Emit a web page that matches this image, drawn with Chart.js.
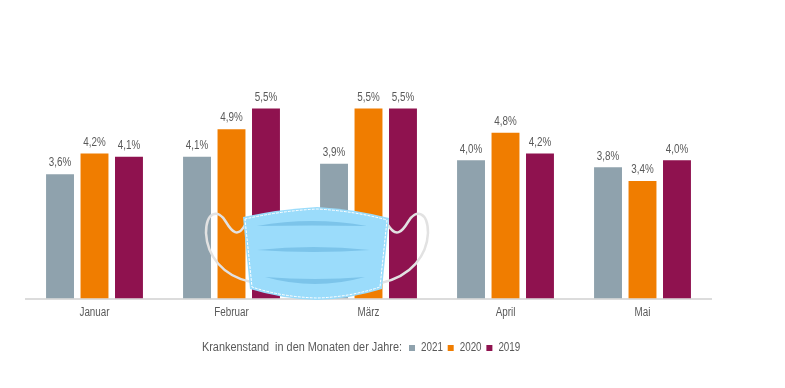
<!DOCTYPE html>
<html>
<head>
<meta charset="utf-8">
<script src="https://cdn.jsdelivr.net/npm/chart.js@4"></script>
<style>
html, body { margin: 0; padding: 0; background: #fff; }
canvas { display: block; }
</style>
</head>
<body>
<canvas id="myChart" width="785" height="388"></canvas>
<script>
var months = ["Januar", "Februar", "März", "April", "Mai"];
var values2021 = [3.6, 4.1, 3.9, 4.0, 3.8];
var values2020 = [4.2, 4.9, 5.5, 4.8, 3.4];
var values2019 = [4.1, 5.5, 5.5, 4.2, 4.0];
var legendTitle = "Krankenstand  in den Monaten der Jahre:";

var textColor = "#595959";
var fontName = "'Liberation Sans', Arial, sans-serif";

// the original type is condensed, no narrow font here so squeeze all canvas text
var squeeze = {
  id: "squeeze",
  beforeInit: function (chart) {
    var ctx = chart.ctx;
    var rawFill = ctx.fillText;
    ctx.fillText = function (text, x, y, maxW) {
      rawFill.call(ctx, text, x, y, maxW || ctx.measureText(text).width * 0.82);
    };
  }
};

// value labels above the bars
var barLabels = {
  id: "barLabels",
  afterDatasetsDraw: function (chart) {
    var ctx = chart.ctx;
    ctx.save();
    ctx.font = "12px " + fontName;
    ctx.fillStyle = textColor;
    ctx.textAlign = "center";
    ctx.textBaseline = "bottom";
    chart.data.datasets.forEach(function (ds, i) {
      chart.getDatasetMeta(i).data.forEach(function (bar, j) {
        ctx.fillText(ds.data[j].toFixed(1).replace(".", ",") + "%", bar.x, bar.y - 5);
      });
    });
    ctx.restore();
  }
};

// legend sits right of its title line
var legendPlace = {
  id: "legendPlace",
  afterLayout: function (chart) {
    var lg = chart.legend;
    var h = lg.bottom - lg.top;
    lg.left = 409;
    lg.right = 600;
    lg.top = 342;
    lg.bottom = 342 + h;
  },
  afterDraw: function (chart) {
    var ctx = chart.ctx;
    ctx.save();
    ctx.font = "12px " + fontName;
    ctx.fillStyle = textColor;
    ctx.textBaseline = "middle";
    ctx.fillText(legendTitle, 202, 348, 200);
    ctx.restore();
  }
};

// the face mask lying over the bars
var mask = {
  id: "mask",
  afterDraw: function (chart) {
    var ctx = chart.ctx;
    ctx.save();
    ctx.lineCap = "round";

    ctx.strokeStyle = "#e2e2e2";
    ctx.lineWidth = 2.5;
    ctx.beginPath();
    ctx.moveTo(245, 225);
    ctx.bezierCurveTo(238, 238, 232, 232, 226, 222);
    ctx.bezierCurveTo(218, 208, 206, 212, 206, 233);
    ctx.bezierCurveTo(207, 255, 222, 276, 251, 282);
    ctx.moveTo(388, 225);
    ctx.bezierCurveTo(396, 238, 402, 232, 408, 222);
    ctx.bezierCurveTo(416, 208, 428, 212, 428, 233);
    ctx.bezierCurveTo(427, 255, 412, 276, 381, 283);
    ctx.stroke();

    ctx.fillStyle = "#9bdcfb";
    ctx.beginPath();
    ctx.moveTo(243, 217);
    ctx.quadraticCurveTo(280, 209, 317, 207);
    ctx.quadraticCurveTo(354, 209, 389, 218);
    ctx.lineTo(382, 289);
    ctx.quadraticCurveTo(350, 299, 317, 300);
    ctx.quadraticCurveTo(282, 299, 250, 289);
    ctx.closePath();
    ctx.fill();

    ctx.strokeStyle = "#ffffff";
    ctx.lineWidth = 1;
    ctx.setLineDash([2, 2]);
    ctx.beginPath();
    ctx.moveTo(245, 219);
    ctx.quadraticCurveTo(280, 211, 317, 209);
    ctx.quadraticCurveTo(354, 211, 387, 220);
    ctx.lineTo(380, 287);
    ctx.quadraticCurveTo(350, 297, 317, 298);
    ctx.quadraticCurveTo(282, 297, 252, 287);
    ctx.closePath();
    ctx.stroke();
    ctx.setLineDash([]);

    // folds: x0, y0, x1, upper control y, lower control y
    ctx.fillStyle = "#7cc4ea";
    [[257, 226, 367, 216, 225], [257, 250, 370, 244, 254], [265, 277, 365, 281, 291]].forEach(function (f) {
      var mid = (f[0] + f[2]) / 2;
      ctx.beginPath();
      ctx.moveTo(f[0], f[1]);
      ctx.quadraticCurveTo(mid, f[3], f[2], f[1]);
      ctx.quadraticCurveTo(mid, f[4], f[0], f[1]);
      ctx.fill();
    });
    ctx.restore();
  }
};

new Chart("myChart", {
  type: "bar",
  data: {
    labels: months,
    datasets: [
      { label: "2021", data: values2021, backgroundColor: "#8fa2ad" },
      { label: "2020", data: values2020, backgroundColor: "#f07d00" },
      { label: "2019", data: values2019, backgroundColor: "#8f124f" }
    ]
  },
  options: {
    responsive: false,
    animation: false,
    categoryPercentage: 0.755,
    barPercentage: 0.81,
    layout: { padding: { left: 26, right: 74, top: 22, bottom: 39 } },
    scales: {
      x: {
        grid: { display: false, drawTicks: false },
        border: { color: "#dcdcdc", width: 2 },
        ticks: { color: textColor, font: { family: fontName, size: 12 }, padding: 7 }
      },
      y: { display: false, min: 0, max: 8 }
    },
    plugins: {
      tooltip: { enabled: false },
      legend: {
        position: "bottom",
        align: "start",
        labels: {
          boxWidth: 6,
          boxHeight: 6,
          padding: 0,
          color: textColor,
          font: { family: fontName, size: 12 }
        }
      }
    }
  },
  plugins: [squeeze, barLabels, legendPlace, mask]
});
</script>
</body>
</html>
